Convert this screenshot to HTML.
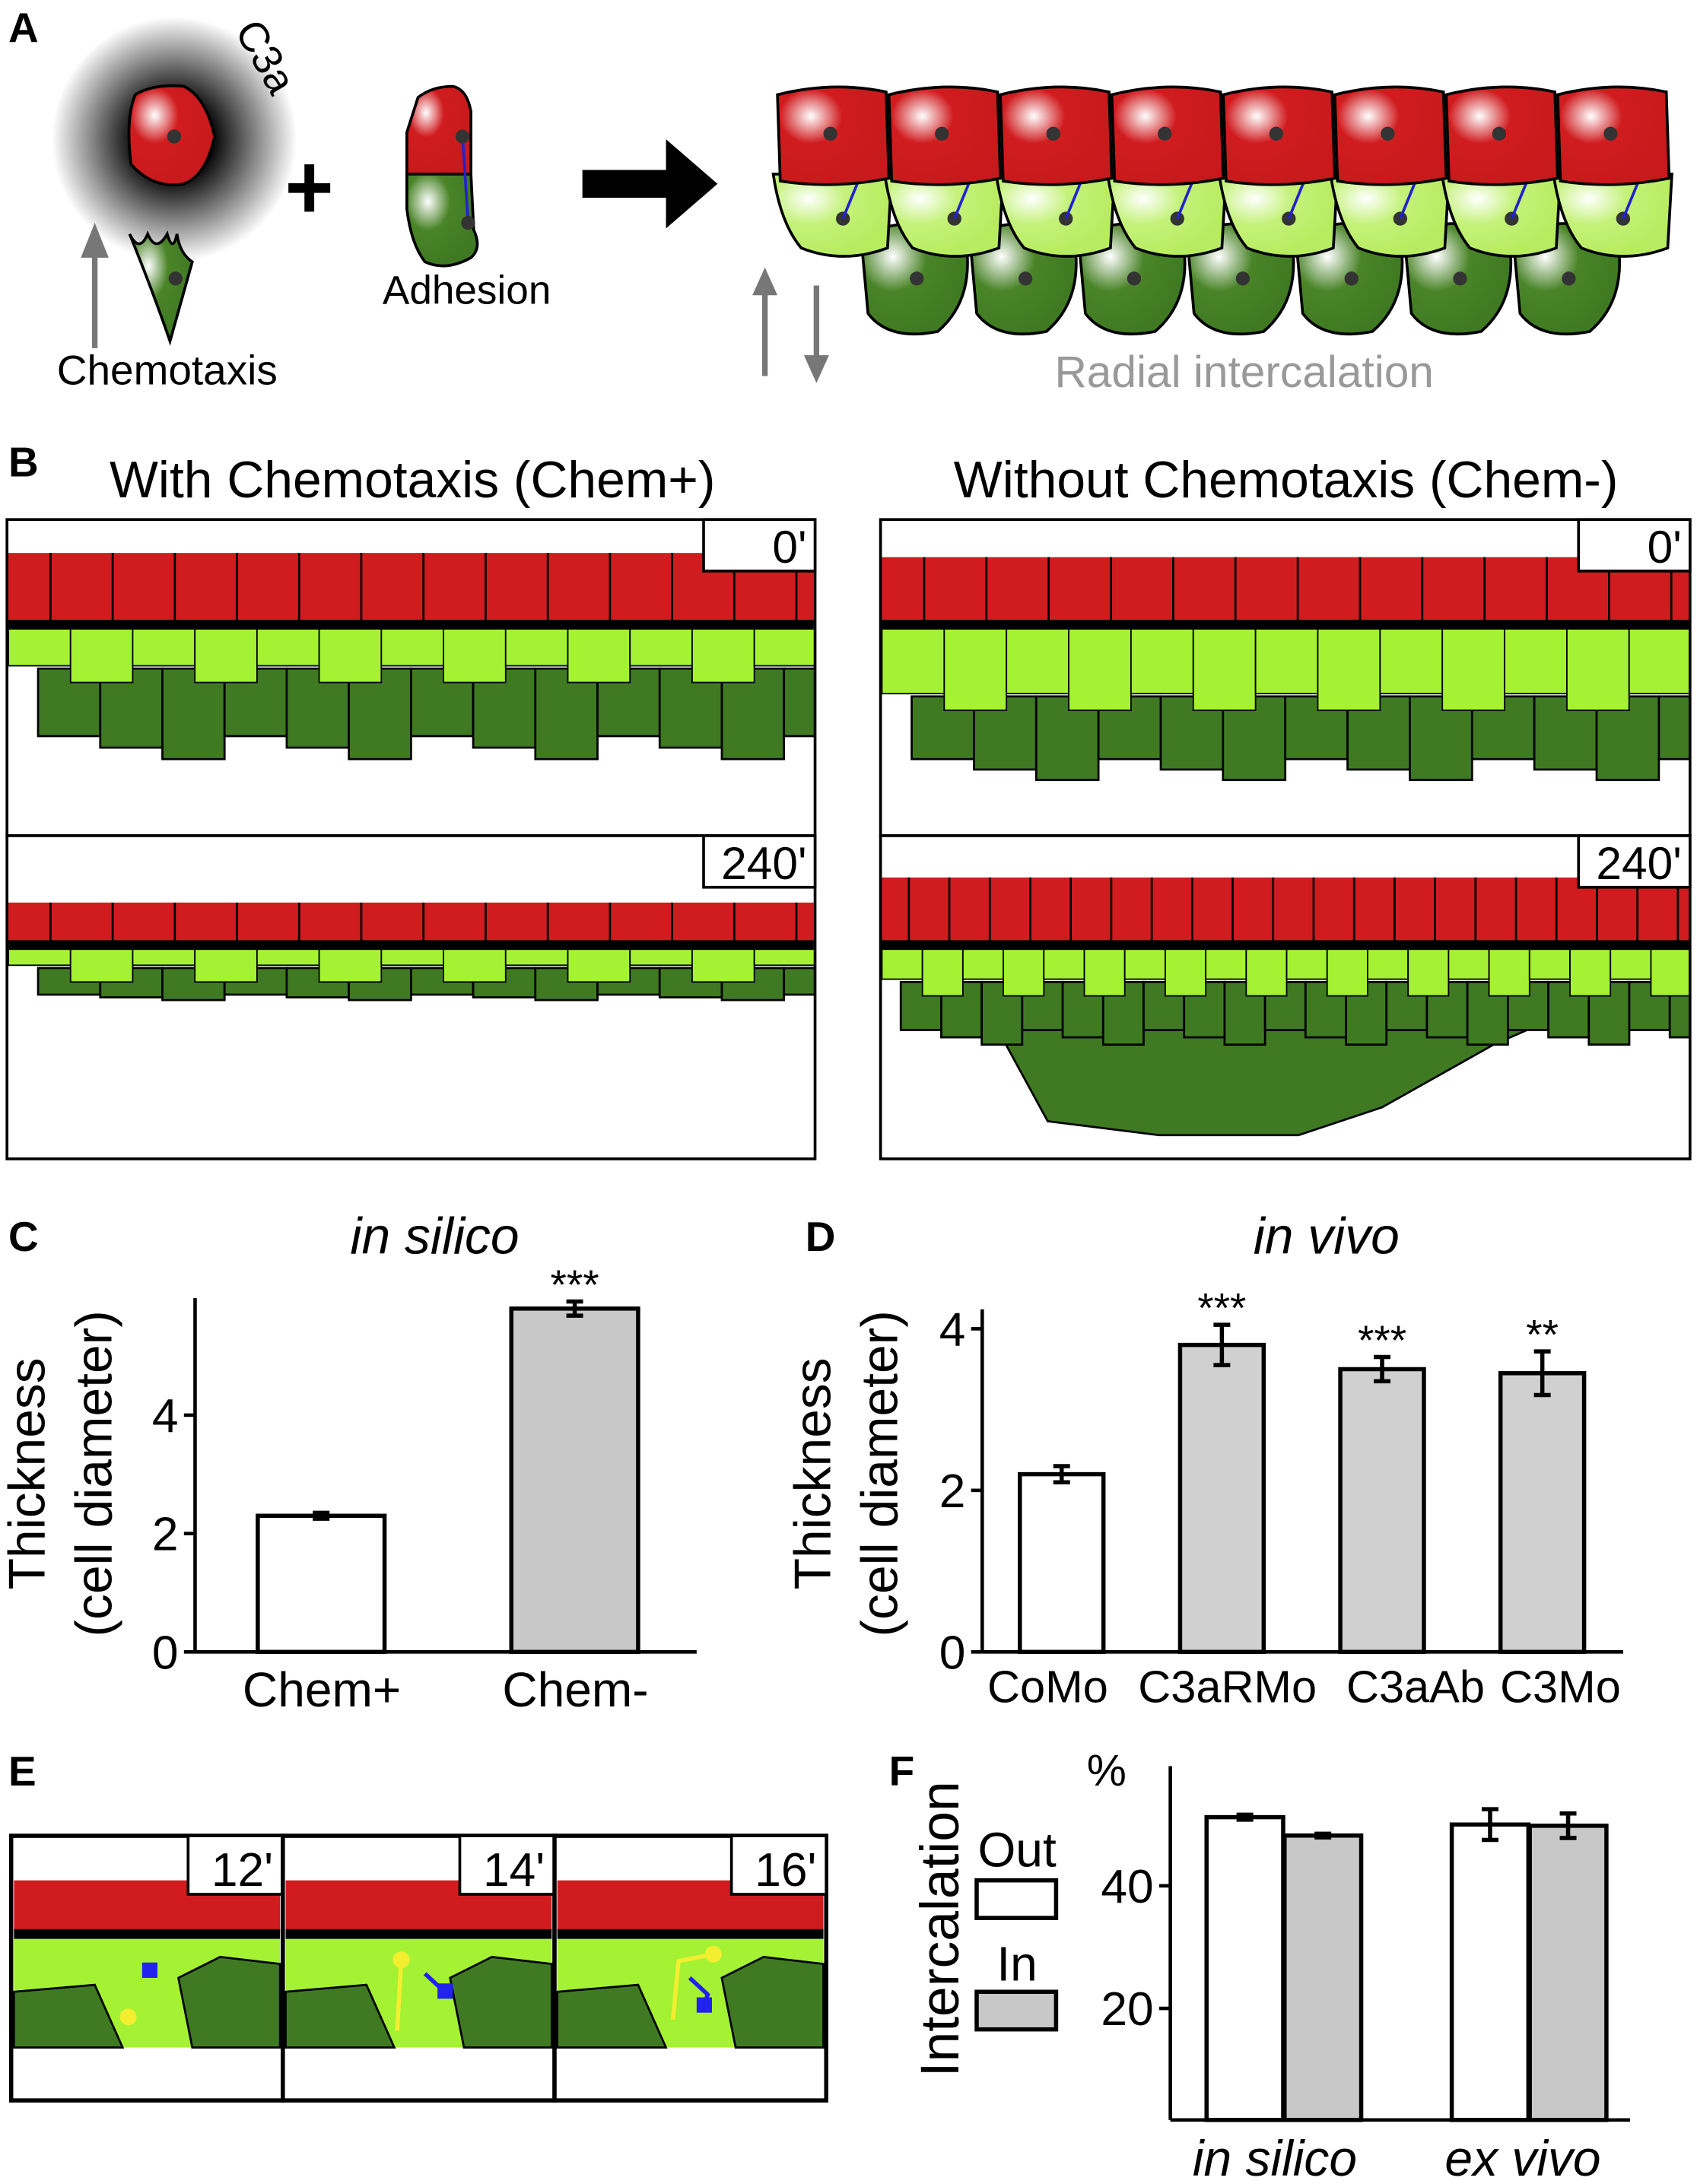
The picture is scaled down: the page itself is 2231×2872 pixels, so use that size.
<!DOCTYPE html>
<html><head><meta charset="utf-8"><style>
html,body{margin:0;padding:0;background:#fff}
svg{display:block;font-family:"Liberation Sans",sans-serif}
</style></head><body>
<svg id="fig" width="2231" height="2872" viewBox="0 0 1218 1568" xmlns="http://www.w3.org/2000/svg">
<defs>
<radialGradient id="halo" cx="0.5" cy="0.5" r="0.5"><stop offset="0.3" stop-color="#000"/><stop offset="1" stop-color="#fff"/></radialGradient>
<radialGradient id="redg" cx="0.3" cy="0.3" r="0.7"><stop offset="0" stop-color="#fff"/><stop offset="0.4" stop-color="#d01c1f"/><stop offset="1" stop-color="#c81a1c"/></radialGradient>
<radialGradient id="dgg" cx="0.3" cy="0.3" r="0.7"><stop offset="0" stop-color="#fff"/><stop offset="0.45" stop-color="#4a8428"/><stop offset="1" stop-color="#3f7a22"/></radialGradient>
<radialGradient id="lgg" cx="0.3" cy="0.3" r="0.7"><stop offset="0" stop-color="#fff"/><stop offset="0.45" stop-color="#c4f27a"/><stop offset="1" stop-color="#b8ec60"/></radialGradient>
</defs>

<!-- Panel A -->
<g>
<text x="6" y="30" font-size="30" font-weight="bold">A</text>
<circle cx="125" cy="100" r="88" fill="url(#halo)"/>
<text x="0" y="0" font-size="30" transform="translate(168,22) rotate(60)">C3a</text>
<path d="M97,68 Q110,60 132,62 Q148,70 154,98 Q148,126 132,132 Q110,136 94,118 Q90,85 97,68Z" fill="url(#redg)" stroke="#000" stroke-width="2"/>
<circle cx="125" cy="98" r="5" fill="#333"/>
<path d="M93,168 Q100,182 106,168 Q112,182 120,168 Q124,182 127,168 Q129,182 138,188 L122,245 Q110,210 93,168Z" fill="url(#dgg)" stroke="#000" stroke-width="2"/>
<circle cx="126" cy="200" r="5" fill="#333"/>
<line x1="68" y1="250" x2="68" y2="175" stroke="#777" stroke-width="4"/>
<polygon points="58,185 78,185 68,160" fill="#777"/>
<text x="120" y="276" font-size="30" text-anchor="middle">Chemotaxis</text>
<path d="M222,118 V152 M207,135 H237" stroke="#000" stroke-width="7"/>
<path d="M300,70 Q310,62 325,62 Q335,64 338,80 L338,125 L292,125 L292,95 Z" fill="url(#redg)" stroke="#000" stroke-width="2"/>
<path d="M292,125 L338,125 L340,165 Q346,178 338,185 Q320,195 305,188 Q295,175 292,150Z" fill="url(#dgg)" stroke="#000" stroke-width="2"/>
<line x1="332" y1="98" x2="336" y2="160" stroke="#2222cc" stroke-width="2"/>
<circle cx="332" cy="98" r="5" fill="#333"/><circle cx="336" cy="160" r="5" fill="#333"/>
<text x="335" y="218" font-size="29" text-anchor="middle">Adhesion</text>
<polygon points="418,122 478,122 478,100 515,132 478,164 478,142 418,142" fill="#000"/>
<g>
<g id="darkRow"></g><g id="lightRow"></g><g id="redRow"></g>
</g>
<line x1="549" y1="270" x2="549" y2="205" stroke="#777" stroke-width="4"/>
<polygon points="540,212 558,212 549,192" fill="#777"/>
<line x1="586" y1="205" x2="586" y2="262" stroke="#777" stroke-width="4"/>
<polygon points="577,255 595,255 586,275" fill="#777"/>
<text x="893" y="278" font-size="32" fill="#999" text-anchor="middle">Radial intercalation</text>
</g>

<!-- Panel B -->
<g>
<text x="6" y="342" font-size="30" font-weight="bold">B</text>
<text x="296" y="357" font-size="37" text-anchor="middle">With Chemotaxis (Chem+)</text>
<text x="923" y="357" font-size="37" text-anchor="middle">Without Chemotaxis (Chem-)</text>
<g id="bpanels"></g>
</g>

<!-- Panel C -->
<g>
<text x="6" y="898" font-size="30" font-weight="bold">C</text>
<text x="312" y="900" font-size="37" font-style="italic" text-anchor="middle">in silico</text>
<text transform="translate(32,1058) rotate(-90)" font-size="37" text-anchor="middle">Thickness</text>
<text transform="translate(80,1058) rotate(-90)" font-size="37" text-anchor="middle">(cell diameter)</text>
<g id="chartC"></g>
</g>

<!-- Panel D -->
<g>
<text x="578" y="898" font-size="30" font-weight="bold">D</text>
<text x="952" y="900" font-size="37" font-style="italic" text-anchor="middle">in vivo</text>
<text transform="translate(596,1058) rotate(-90)" font-size="37" text-anchor="middle">Thickness</text>
<text transform="translate(644,1058) rotate(-90)" font-size="37" text-anchor="middle">(cell diameter)</text>
<g id="chartD"></g>
</g>

<!-- Panel E -->
<g>
<text x="6" y="1282" font-size="30" font-weight="bold">E</text>
<g id="epanels"></g>
</g>

<!-- Panel F -->
<g>
<text x="638" y="1282" font-size="30" font-weight="bold">F</text>
<text transform="translate(688,1385) rotate(-90)" font-size="39" text-anchor="middle">Intercalation</text>
<text x="780" y="1282" font-size="32">%</text>
<text x="730" y="1340" font-size="35" text-anchor="middle">Out</text>
<rect x="701" y="1350" width="57" height="27" fill="#fff" stroke="#000" stroke-width="3"/>
<text x="730" y="1422" font-size="35" text-anchor="middle">In</text>
<rect x="701" y="1430" width="57" height="27" fill="#c8c8c8" stroke="#000" stroke-width="3"/>
<g id="chartF"></g>
</g>
</svg>
<script>
const NS="http://www.w3.org/2000/svg";
function mk(p,t,a){const e=document.createElementNS(NS,t);for(const k in a)e.setAttribute(k,a[k]);p.appendChild(e);return e;}

// ---- Chart C data
const cCats=["Chem+","Chem-"];
const cVals=[2.3,5.8];
const cErr=[0.05,0.12];
const cTicks=[0,2,4];
const cStars=["","***"];
// ---- Chart D data
const dCats=["CoMo","C3aRMo","C3aAb","C3Mo"];
const dVals=[2.2,3.8,3.5,3.45];
const dErr=[0.1,0.25,0.15,0.27];
const dTicks=[0,2,4];
const dStars=["","***","***","**"];
// ---- Chart F data
const fGroups=["in silico","ex vivo"];
const fOut=[51.2,50.0];
const fIn=[48.2,49.8];
const fOutErr=[0.4,2.5];
const fInErr=[0.3,2.0];
const fTicks=[20,40];

function barChart(g,cfg){
  const y=v=>cfg.y0-(v-cfg.vmin)*cfg.k;
  mk(g,'line',{x1:cfg.ax,y1:cfg.y0,x2:cfg.ax,y2:cfg.ytop,stroke:'#000','stroke-width':2.5});
  mk(g,'line',{x1:cfg.ax,y1:cfg.y0,x2:cfg.xend,y2:cfg.y0,stroke:'#000','stroke-width':2.5});
  cfg.ticks.forEach(t=>{
    const l=mk(g,'line',{x1:cfg.ax-8,y1:y(t),x2:cfg.ax,y2:y(t),stroke:'#000','stroke-width':2.5});
    
    const tx=mk(g,'text',{x:cfg.ax-12,y:y(t)+12,'font-size':34,'text-anchor':'end'});tx.textContent=t;
    
  });
  cfg.bars.forEach(b=>{
    const r=mk(g,'rect',{x:b.x,y:y(b.v),width:b.w,height:cfg.y0-y(b.v),fill:b.fill,stroke:'#000','stroke-width':3});
    
    
    const cx=b.x+b.w/2;
    const e=mk(g,'path',{d:`M${cx},${y(b.v+b.e)}V${y(b.v-b.e)}M${cx-6},${y(b.v+b.e)}H${cx+6}M${cx-6},${y(b.v-b.e)}H${cx+6}`,stroke:'#000','stroke-width':3,fill:'none'});
    
    if(b.star){const s=mk(g,'text',{x:cx,y:y(b.v+b.e)-2,'font-size':30,'text-anchor':'middle'});s.textContent=b.star;
      }
  });
}
barChart(document.getElementById('chartC'),{ax:140,y0:1186,ytop:932,xend:500,vmin:0,k:42.5,ticks:cTicks,
  bars:cCats.map((c,i)=>({name:c,x:185+i*182,w:91,v:cVals[i],e:cErr[i],fill:i?'#c8c8c8':'#fff',star:cStars[i]}))});
cCats.forEach((c,i)=>{const t=mk(document.getElementById('chartC'),'text',{x:231+i*182,y:1225,'font-size':35,'text-anchor':'middle'});t.textContent=c;
  });
barChart(document.getElementById('chartD'),{ax:705,y0:1186,ytop:940,xend:1165,vmin:0,k:58,ticks:dTicks,
  bars:dCats.map((c,i)=>({name:c,x:732+i*115,w:60,v:dVals[i],e:dErr[i],fill:i?'#d0d0d0':'#fff',star:dStars[i]}))});
const dLabX=[752,881,1016,1120];
dCats.forEach((c,i)=>{const t=mk(document.getElementById('chartD'),'text',{x:dLabX[i],y:1222,'font-size':32.5,'text-anchor':'middle'});t.textContent=c;
  });
const gF=document.getElementById('chartF');
const fb=[];fGroups.forEach((g,i)=>{fb.push({name:g+' out',x:866+i*176,w:55,v:fOut[i],e:fOutErr[i],fill:'#fff'});fb.push({name:g+' in',x:922+i*176,w:55,v:fIn[i],e:fInErr[i],fill:'#c8c8c8'});});
barChart(gF,{ax:840,y0:1522,ytop:1268,xend:1170,vmin:1.8,k:4.4,ticks:fTicks,bars:fb});
fGroups.forEach((g,i)=>{const t=mk(gF,'text',{x:915+i*178,y:1562,'font-size':36,'font-style':'italic','text-anchor':'middle'});t.textContent=g;
  });

// ---- Panel A cell rows
(function(){
  const red=document.getElementById('redRow'),lg=document.getElementById('lightRow'),dg=document.getElementById('darkRow');
  for(let i=0;i<8;i++){const x=558+i*80;
    const p=mk(red,'path',{d:`M${x},${68} Q${x+40},${58} ${x+78},${66} L${x+80},${128} Q${x+40},${136} ${x+2},${130}Z`,fill:'url(#redg)',stroke:'#000','stroke-width':2});
    
    mk(red,'circle',{cx:x+38,cy:96,r:5,fill:'#333'});}
  for(let i=0;i<8;i++){const x=555+i*80;
    const p=mk(lg,'path',{d:`M${x},125 L${x+85},125 L${x+82},178 Q${x+50},190 ${x+20},178 Q${x+5},160 ${x},125Z`,fill:'url(#lgg)',stroke:'#000','stroke-width':2});
    
    mk(lg,'circle',{cx:x+50,cy:157,r:5,fill:'#333'});
    mk(lg,'line',{x1:x+50,y1:157,x2:x+75,y2:96,stroke:'#2222cc','stroke-width':2});}
  for(let i=0;i<7;i++){const x=618+i*78;
    const p=mk(dg,'path',{d:`M${x},170 Q${x+40},150 ${x+75},172 Q${x+82},215 ${x+55},238 Q${x+20},245 ${x+5},225Z`,fill:'url(#dgg)',stroke:'#000','stroke-width':2});
    
    mk(dg,'circle',{cx:x+40,cy:200,r:5,fill:'#333'});}
})();

// ---- Panel B simulation boxes
(function(){
  const g=document.getElementById('bpanels');
  const svg=document.getElementById('fig');
  const defs=svg.querySelector('defs');
  const panels=[
    {x:5,y:373,w:580,h:227,label:"0'",redTop:397,redBot:447,lgBot:490,dgBot:545,ncell:13,bulge:0},
    {x:632,y:373,w:581,h:227,label:"0'",redTop:400,redBot:447,lgBot:510,dgBot:560,ncell:13,bulge:0},
    {x:5,y:600,w:580,h:232,label:"240'",redTop:648,redBot:677,lgBot:705,dgBot:718,ncell:13,bulge:0},
    {x:632,y:600,w:581,h:232,label:"240'",redTop:630,redBot:677,lgBot:715,dgBot:750,ncell:20,bulge:1}
  ];
  panels.forEach((p,pi)=>{
    const cp=mk(defs,'clipPath',{id:'bclip'+pi});
    mk(cp,'rect',{x:p.x,y:p.y,width:p.w,height:p.h});
    const pg=mk(g,'g',{});
    
    mk(pg,'rect',{x:p.x,y:p.y,width:p.w,height:p.h,fill:'#fff'});
    const cg=mk(pg,'g',{'clip-path':`url(#bclip${pi})`});
    mk(cg,'rect',{x:p.x+1,y:p.redTop,width:p.w-2,height:p.redBot-p.redTop,fill:'#d01c1f'});
    const dw=p.w/p.ncell;
    if(p.bulge){mk(cg,'path',{d:`M${p.x+20},${p.lgBot} L${p.x+90},${p.dgBot} L${p.x+120},${p.dgBot+55} L${p.x+200},${p.dgBot+65} L${p.x+300},${p.dgBot+65} L${p.x+360},${p.dgBot+45} L${p.x+440},${p.dgBot} L${p.x+520},${p.lgBot}Z`,fill:'#3f7a22',stroke:'#000','stroke-width':1.5});}
    for(let i=0;i<p.ncell;i++){
      mk(cg,'line',{x1:p.x+(i+0.7)*dw,y1:p.redTop,x2:p.x+(i+0.7)*dw,y2:p.redBot,stroke:'#000','stroke-width':1.5});
      const dh=(p.dgBot-p.lgBot)*(0.7+0.3*((i*7)%3)/2);
      mk(cg,'rect',{x:p.x+(i+0.5)*dw,y:p.lgBot-10,width:dw,height:Math.max(10,dh+10),fill:'#3f7a22',stroke:'#000','stroke-width':1.5});
      mk(cg,'rect',{x:p.x+i*dw+1,y:p.redBot,width:dw,height:p.lgBot-p.redBot-((i%2)?0:12),fill:'#a4f233',stroke:'#000','stroke-width':1});
    }
    mk(cg,'rect',{x:p.x+1,y:p.redBot-2,width:p.w-2,height:7,fill:'#000'});
    mk(pg,'rect',{x:p.x,y:p.y,width:p.w,height:p.h,fill:'none',stroke:'#000','stroke-width':2});
    mk(pg,'rect',{x:p.x+p.w-80,y:p.y,width:80,height:37,fill:'#fff',stroke:'#000','stroke-width':2});
    const t=mk(pg,'text',{x:p.x+p.w-6,y:p.y+31,'font-size':33,'text-anchor':'end'});t.textContent=p.label;
    
  });
})();

// ---- Panel E
(function(){
  const g=document.getElementById('epanels');
  const labels=["12'","14'","16'"];
  labels.forEach((l,i)=>{
    const x=8+i*195;
    const pg=mk(g,'g',{});
    
    mk(pg,'rect',{x:x,y:1318,width:195,height:190,fill:'#fff',stroke:'#000','stroke-width':3});
    mk(pg,'rect',{x:x+2,y:1350,width:191,height:37,fill:'#d01c1f'});
    mk(pg,'rect',{x:x+2,y:1392,width:191,height:78,fill:'#a4f233'});
    mk(pg,'path',{d:`M${x+2},1430 L${x+60},1425 L${x+80},1470 L${x+2},1470Z M${x+120},1420 L${x+150},1405 L${x+193},1410 L${x+193},1470 L${x+130},1470Z`,fill:'#3f7a22',stroke:'#000','stroke-width':1.5});
    mk(pg,'rect',{x:x+2,y:1385,width:191,height:7,fill:'#000'});
    mk(pg,'rect',{x:x+127,y:1318,width:68,height:42,fill:'#fff',stroke:'#000','stroke-width':2});
    const t=mk(pg,'text',{x:x+188,y:1354,'font-size':34,'text-anchor':'end'});t.textContent=l;
    
  });
  mk(g,'rect',{x:102,y:1409,width:11,height:11,fill:'#2222ee'});
  mk(g,'circle',{cx:92,cy:1448,r:6,fill:'#f4ee30'});
  mk(g,'path',{d:'M288,1407 L285,1458',stroke:'#f4ee30','stroke-width':3,fill:'none'});
  mk(g,'circle',{cx:288,cy:1407,r:6,fill:'#f4ee30'});
  mk(g,'path',{d:'M305,1417 L318,1429',stroke:'#2222ee','stroke-width':3});
  mk(g,'rect',{x:314,y:1424,width:11,height:11,fill:'#2222ee'});
  mk(g,'path',{d:'M512,1403 L487,1408 L483,1450',stroke:'#f4ee30','stroke-width':3,fill:'none'});
  mk(g,'circle',{cx:512,cy:1403,r:6,fill:'#f4ee30'});
  mk(g,'path',{d:'M495,1420 L508,1432 L505,1440',stroke:'#2222ee','stroke-width':3,fill:'none'});
  mk(g,'rect',{x:500,y:1434,width:11,height:11,fill:'#2222ee'});
})();
</script>
</body></html>
